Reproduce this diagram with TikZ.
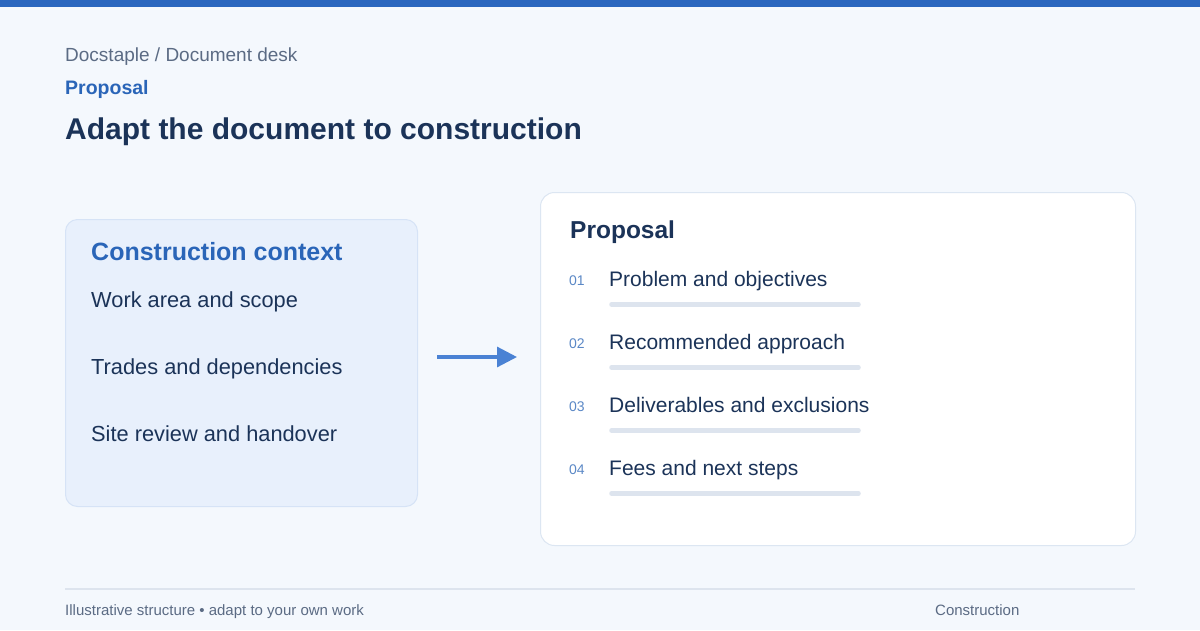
\documentclass[tikz,border=0pt]{standalone}
\usepackage{fontspec}
\setmainfont{Liberation Sans}
\usetikzlibrary{arrows.meta}
\definecolor{bgc}{HTML}{F4F8FD}
\definecolor{barc}{HTML}{2B67BF}
\definecolor{crumbc}{HTML}{5B6B84}
\definecolor{bluec}{HTML}{2A65B8}
\definecolor{darkc}{HTML}{1B3358}
\definecolor{ctxfill}{HTML}{E8F0FC}
\definecolor{ctxline}{HTML}{D6E3F6}
\definecolor{cardline}{HTML}{DCE6F2}
\definecolor{numc}{HTML}{5B88C6}
\definecolor{rulec}{HTML}{DDE4EE}
\definecolor{arrowc}{HTML}{4A82D4}
\definecolor{footc}{HTML}{5B6B84}
\newcommand{\fsz}[1]{\fontsize{#1}{#1}\selectfont}
\tikzset{
  txt/.style={inner sep=0pt, anchor=base west},
  ctxbox/.style={draw=ctxline, fill=ctxfill, line width=1pt, rounded corners=12pt, anchor=north west, inner sep=0pt},
  cardbox/.style={draw=cardline, fill=white, line width=1pt, rounded corners=14pt, anchor=north west, inner sep=0pt},
  ctxitem/.style={txt, text=darkc, font=\fsz{21.8}},
  num/.style={txt, text=numc, font=\fsz{14}},
  item/.style={txt, text=darkc, font=\fsz{21}},
  itembar/.style={line width=4.5pt, draw=rulec, line cap=round},
  flow/.style={draw=arrowc, line width=3.2pt, -{Triangle[length=20pt,width=20pt]}},
  foot/.style={txt, text=footc, font=\fsz{15}}
}
\begin{document}
\begin{tikzpicture}[x=1pt,y=-1pt]
\useasboundingbox (0,0) rectangle (1200,630);
\fill[bgc] (0,0) rectangle (1200,630);
\fill[barc] (0,0) rectangle (1200,7);
% header
\node[txt, text=crumbc, font=\fsz{19}] (crumb) at (65,61) {Docstaple / Document desk};
\node[txt, text=bluec, font=\bfseries\fsz{19.5}] (kind) at (65,94) {Proposal};
\node[txt, text=darkc, font=\bfseries\fsz{30}] (title) at (65,139) {Adapt the document to construction};
% left box
\node[ctxbox, minimum width=352pt, minimum height=287pt] (ctx) at (65,219) {};
\node[txt, text=bluec, font=\bfseries\fsz{25}] (ctxt) at (91,260) {Construction context};
\node[ctxitem] (c1) at (91,307) {Work area and scope};
\node[ctxitem] (c2) at (91,374) {Trades and dependencies};
\node[ctxitem] (c3) at (91,441) {Site review and handover};
% right card
\node[cardbox, minimum width=595pt, minimum height=353pt] (card) at (540,192) {};
\node[txt, text=darkc, font=\bfseries\fsz{24.5}] (cardt) at (570,238) {Proposal};
\foreach \i/\n/\t in {0/01/Problem and objectives,1/02/Recommended approach,2/03/Deliverables and exclusions,3/04/Fees and next steps}{
  \node[num] (n\n) at (569,{285+63*\i}) {\n};
  \node[item] (t\n) at (609,{286+63*\i}) {\t};
  \coordinate (bl\n) at (611.5,{304.5+63*\i});
  \coordinate (br\n) at (858.5,{304.5+63*\i});
  \draw[itembar] (bl\n) -- (br\n);
}
% arrow
\coordinate (af) at (437,357);
\coordinate (at) at (517,357);
\draw[flow] (af) -- (at);
% footer
\coordinate (fl) at (65,589);
\coordinate (fr) at (1135,589);
\draw[rulec, line width=1.2pt] (fl) -- (fr);
\node[foot] (f1) at (65,615) {Illustrative structure • adapt to your own work};
\node[foot] (f2) at (935,615) {Construction};
\end{tikzpicture}
\end{document}
